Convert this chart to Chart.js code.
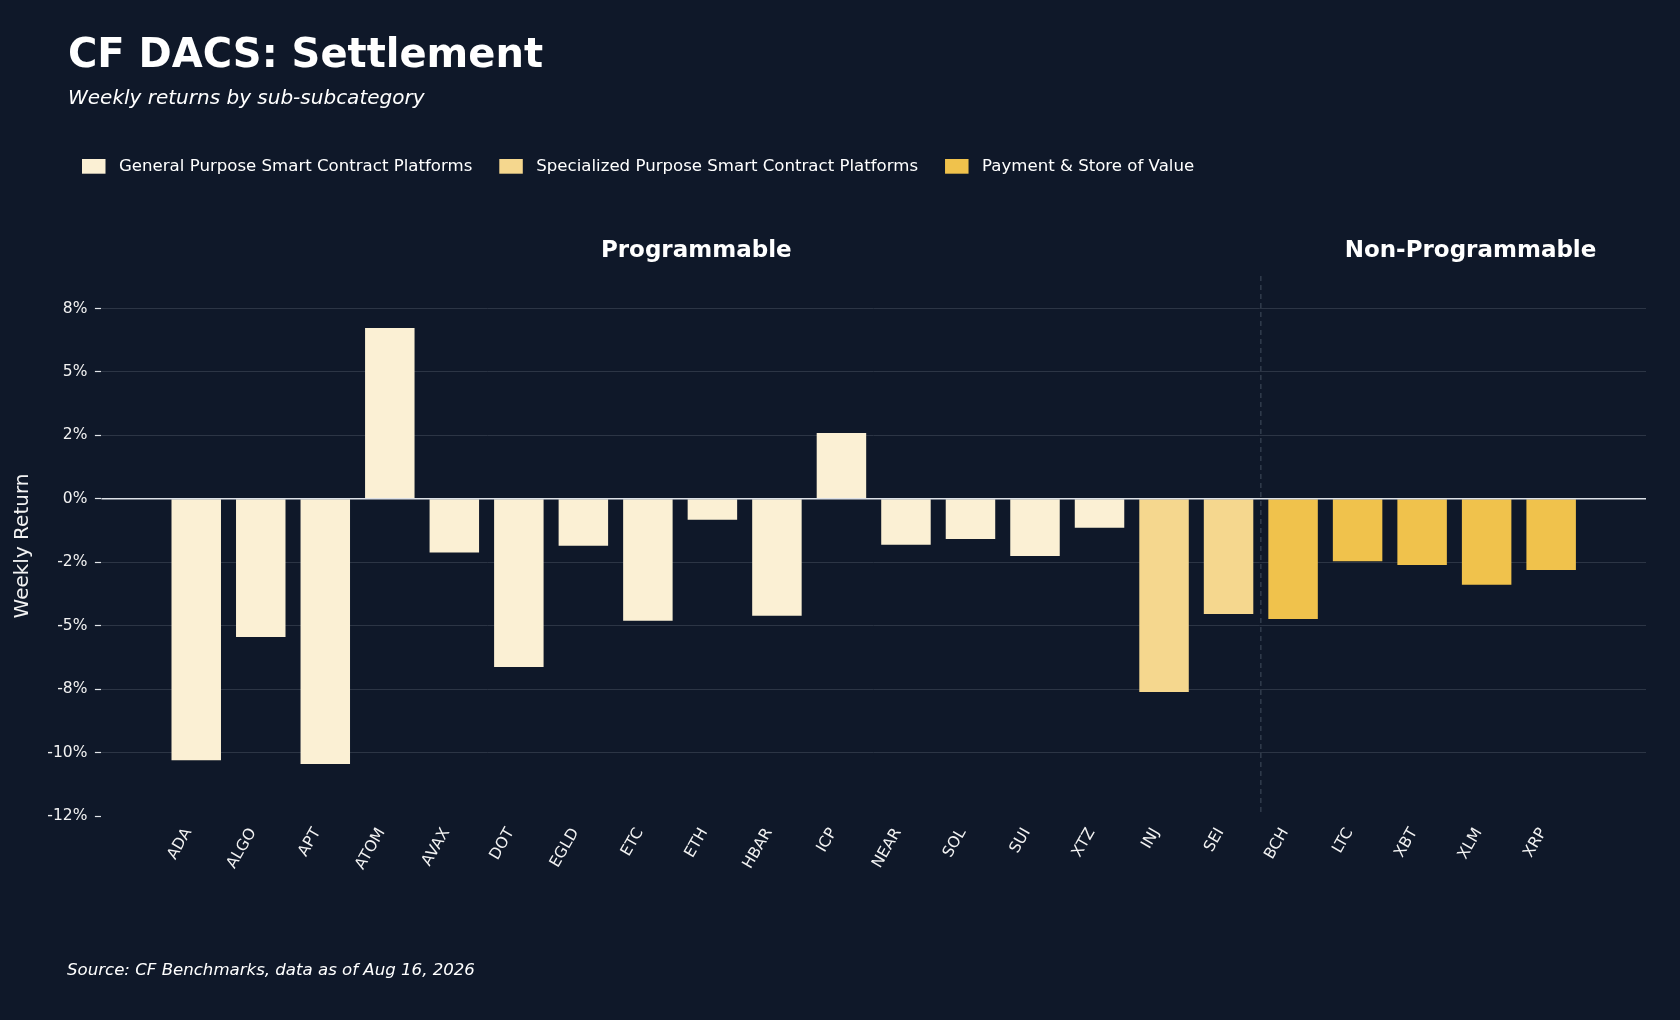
<!DOCTYPE html>
<html>
<head>
<meta charset="utf-8">
<script src="https://cdn.jsdelivr.net/npm/chart.js@4.4.1/dist/chart.umd.min.js"></script>
<style>
  html, body { margin: 0; padding: 0; background: #0f1829; }
  #wrap { position: relative; width: 1680px; height: 1020px; }
</style>
</head>
<body>
<div id="wrap"><canvas id="chartData" width="1680" height="1020"></canvas></div>
<script>
// data
const categories = ['ADA', 'ALGO', 'APT', 'ATOM', 'AVAX', 'DOT', 'EGLD', 'ETC', 'ETH', 'HBAR', 'ICP',
    'NEAR', 'SOL', 'SUI', 'XTZ', 'INJ', 'SEI', 'BCH', 'LTC', 'XBT', 'XLM', 'XRP'];
const weeklyReturns = [-10.30, -5.45, -10.45, 6.73, -2.12, -6.63, -1.85, -4.81, -0.83, -4.61, 2.59,
    -1.81, -1.58, -2.25, -1.14, -7.61, -4.54, -4.74, -2.46, -2.61, -3.39, -2.81];
const subcategories = ['General Purpose Smart Contract Platforms', 'Specialized Purpose Smart Contract Platforms', 'Payment & Store of Value'];
const subcategoryOf = [0, 0, 0, 0, 0, 0, 0, 0, 0, 0, 0, 0, 0, 0, 0, 1, 1, 2, 2, 2, 2, 2];
const groups = ['Programmable', 'Non-Programmable'];
const yTickValues = [7.5, 5, 2.5, 0, -2.5, -5, -7.5, -10, -12.5];
const yTickLabels = ['8%', '5%', '2%', '0%', '-2%', '-5%', '-8%', '-10%', '-12%'];

// styling
const colors = ['#fbf0d4', '#f5d78e', '#f0c24c'];
const bg = '#0f1829';
const gridColor = '#2c3545';
const textColor = '#f2f2f2';
const font = 'DejaVu Sans';
const groupSplit = 16.5;          // between SEI and BCH
const groupCenters = [7.75, 19.75];

let datasets = subcategories.map((name, s) => {
    let pts = [];
    for (let i = 0; i < categories.length; i++) {
        if (subcategoryOf[i] === s) pts.push({ x: i, y: weeklyReturns[i] });
    }
    return {
        label: name,
        data: pts,
        backgroundColor: colors[s],
        borderWidth: 0,
        grouped: false,
        barPercentage: 0.767,
        categoryPercentage: 1.0
    };
});

const decorations = {
    id: 'decorations',
    beforeDraw(chart) {
        const ctx = chart.ctx;
        ctx.save();
        ctx.fillStyle = bg;
        ctx.fillRect(0, 0, chart.width, chart.height);
        ctx.restore();
    },
    beforeDatasetsDraw(chart) {
        const { ctx, chartArea, scales } = chart;
        let x = scales.x.getPixelForValue(groupSplit);
        ctx.save();
        ctx.strokeStyle = '#323c4d';
        ctx.lineWidth = 1.5;
        ctx.setLineDash([5, 4]);
        ctx.beginPath();
        ctx.moveTo(x, chartArea.top);
        ctx.lineTo(x, chartArea.bottom);
        ctx.stroke();
        ctx.restore();
    },
    afterDatasetsDraw(chart) {
        const { ctx, chartArea, scales } = chart;
        let y0 = scales.y.getPixelForValue(0);
        ctx.save();
        ctx.strokeStyle = '#dde1e7';
        ctx.lineWidth = 1.5;
        ctx.beginPath();
        ctx.moveTo(chartArea.left, y0);
        ctx.lineTo(chartArea.right, y0);
        ctx.stroke();

        // titles
        ctx.fillStyle = '#ffffff';
        ctx.textBaseline = 'alphabetic';
        ctx.textAlign = 'left';
        ctx.font = `bold 40px "${font}"`;
        ctx.fillText('CF DACS: Settlement', 68, 67);
        ctx.font = `italic 20px "${font}"`;
        ctx.fillText('Weekly returns by sub-subcategory', 68, 104);

        // legend
        ctx.font = `16.6px "${font}"`;
        ctx.textBaseline = 'middle';
        let lx = 82;
        subcategories.forEach((name, s) => {
            ctx.fillStyle = colors[s];
            ctx.fillRect(lx, 159, 23.5, 14.7);
            ctx.fillStyle = '#ffffff';
            ctx.fillText(name, lx + 37, 166.5);
            lx += 37 + ctx.measureText(name).width + 27;
        });

        // group headers
        ctx.font = `bold 23px "${font}"`;
        ctx.textAlign = 'center';
        ctx.textBaseline = 'alphabetic';
        groups.forEach((g, k) => {
            ctx.fillText(g, scales.x.getPixelForValue(groupCenters[k]), 256.5);
        });

        // source
        ctx.textAlign = 'left';
        ctx.font = `italic 16.6px "${font}"`;
        ctx.fillText('Source: CF Benchmarks, data as of Aug 16, 2026', 67, 975);
        ctx.restore();
    }
};

const ctx = document.getElementById('chartData');

new Chart(ctx, {
    type: 'bar',
    data: { datasets: datasets },
    plugins: [decorations],
    options: {
        responsive: false,
        animation: false,
        devicePixelRatio: 1,
        layout: { padding: { top: 276, right: 34, left: 0, bottom: 0 } },
        plugins: {
            legend: { display: false },
            tooltip: { enabled: false }
        },
        scales: {
            x: {
                type: 'linear',
                min: -1.47,
                max: 22.47,
                offset: false,
                afterBuildTicks: (scale) => {
                    scale.ticks = categories.map((c, i) => ({ value: i }));
                },
                afterFit: (scale) => { scale.height = 204; },
                grid: { display: false, drawTicks: false },
                border: { display: false },
                ticks: {
                    autoSkip: false,
                    maxRotation: 60,
                    minRotation: 60,
                    padding: 9,
                    labelOffset: -8,
                    color: textColor,
                    font: { family: font, size: 15.5 },
                    callback: (v) => categories[v]
                }
            },
            y: {
                min: -12.5,
                max: 8.78,
                afterBuildTicks: (scale) => {
                    scale.ticks = yTickValues.map(v => ({ value: v }));
                },
                afterFit: (scale) => { scale.width = 101.4; },
                border: { display: false },
                grid: {
                    color: (c) => (c.tick && (c.tick.value === 0 || c.tick.value === -12.5)) ? 'rgba(0,0,0,0)' : gridColor,
                    tickColor: '#e2e5ea',
                    tickWidth: 1.2,
                    tickLength: 6.5,
                    lineWidth: 1
                },
                ticks: {
                    padding: 7.5,
                    color: textColor,
                    font: { family: font, size: 15.5 },
                    callback: (v, i) => yTickLabels[i]
                },
                title: {
                    display: true,
                    text: 'Weekly Return',
                    color: textColor,
                    font: { family: font, size: 20 },
                    padding: { top: 10.5, bottom: 0 }
                }
            }
        }
    }
});
</script>
</body>
</html>
